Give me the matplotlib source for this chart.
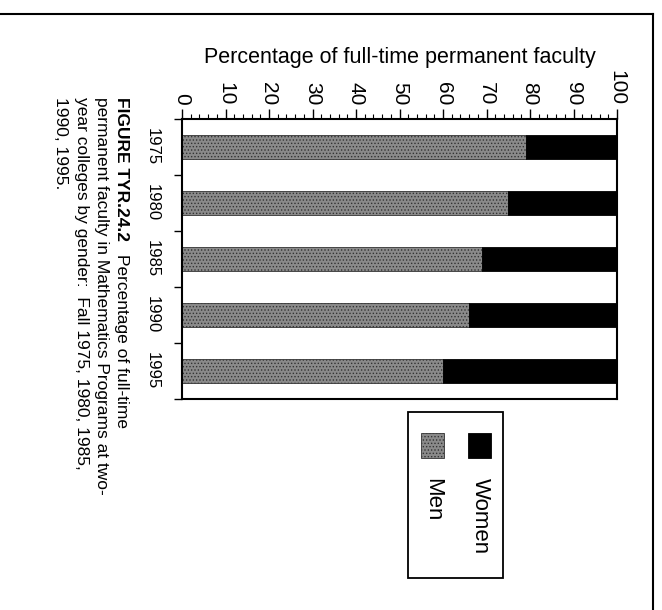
import matplotlib.pyplot as plt
from matplotlib.patches import Rectangle
from matplotlib.lines import Line2D

plt.rcParams['font.family'] = ['Liberation Sans', 'DejaVu Sans']
plt.rcParams['hatch.linewidth'] = 0.6

# data
years = ['1975', '1980', '1985', '1990', '1995']
men = [79, 75, 69, 66, 60]
women = [100 - m for m in men]
value_ticks = list(range(0, 101, 10))

W, H = 662, 610
fig = plt.figure(figsize=(W / 100, H / 100), dpi=100)


def fx(px):
    return px / W


def fy(py):
    return 1 - py / H


ax = fig.add_axes([fx(182), fy(399), fx(617) - fx(182), fy(119) - fy(399)])

pos = [i + 0.5 for i in range(len(years))]
men_bars = ax.barh(pos, men, height=0.43, color='#8a8a8a', edgecolor='#333333',
                   linewidth=0.6, hatch='.....')
women_bars = ax.barh(pos, women, left=men, height=0.43, color='black',
                     edgecolor='black', linewidth=0.6)

ax.set_xlim(0, 100)
ax.set_ylim(len(years), 0)

# value axis on top, text turned clockwise like the printed page
ax.xaxis.tick_top()
ax.set_xticks(value_ticks)
ax.set_xticks(range(0, 101, 2), minor=True)
ax.set_xticklabels([str(v) for v in value_ticks], rotation=-90, fontsize=15)
ax.tick_params(axis='x', which='major', length=7, width=1, pad=3)
ax.tick_params(axis='x', which='minor', length=3.5, width=0.8)
ax.xaxis.set_label_position('top')
ax.set_xlabel('Percentage of full-time permanent faculty', fontsize=15.5, labelpad=5)

# category axis: separators as ticks, years centred in each slot
ax.set_yticks(range(len(years) + 1))
ax.set_yticklabels([])
ax.set_yticks(pos, minor=True)
ax.set_yticklabels(years, minor=True, rotation=-90, fontsize=12, va='center')
ax.tick_params(axis='y', which='major', length=6, width=1)
ax.tick_params(axis='y', which='minor', length=0, pad=16)

for s in ax.spines.values():
    s.set_linewidth(1.5)

# legend box, laid out turned like the rest
fig.patches.append(Rectangle((fx(408), fy(578)), fx(503) - fx(408), fy(412) - fy(578),
                             transform=fig.transFigure, facecolor='white',
                             edgecolor='black', linewidth=1.3))
fig.patches.append(Rectangle((fx(468), fy(458)), fx(23), fy(433) - fy(458),
                             transform=fig.transFigure, facecolor='black',
                             edgecolor='black', linewidth=0.6))
fig.patches.append(Rectangle((fx(421), fy(458)), fx(23), fy(433) - fy(458),
                             transform=fig.transFigure, facecolor='#8a8a8a',
                             edgecolor='#333333', linewidth=0.6, hatch='.....'))
fig.text(fx(480), fy(478), 'Women', rotation=-90, ha='center', va='top', fontsize=16)
fig.text(fx(433), fy(478), 'Men', rotation=-90, ha='center', va='top', fontsize=16)

# caption
bold = fig.text(fx(129), fy(97), 'FIGURE TYR.24.2', rotation=-90, ha='right', va='top',
                fontsize=12.5, fontweight='bold')
ax.annotate('Percentage of full-time', xy=(0.5, 0), xycoords=bold,
            xytext=(0, -9), textcoords='offset points', rotation=-90,
            ha='center', va='top', fontsize=12.5)
fig.text(fx(109), fy(97),
         'permanent faculty in Mathematics Programs at two-\n'
         'year colleges by gender:  Fall 1975, 1980, 1985,\n'
         '1990, 1995.',
         rotation=-90, ha='right', va='top', fontsize=12.5, linespacing=1.45,
         multialignment='left')

# page frame
fig.lines.append(Line2D([0, fx(653)], [fy(14), fy(14)], transform=fig.transFigure,
                        color='black', linewidth=1.5))
fig.lines.append(Line2D([fx(653), fx(653)], [fy(14), 0], transform=fig.transFigure,
                        color='black', linewidth=1.5))

plt.savefig('out.png', dpi=100)
